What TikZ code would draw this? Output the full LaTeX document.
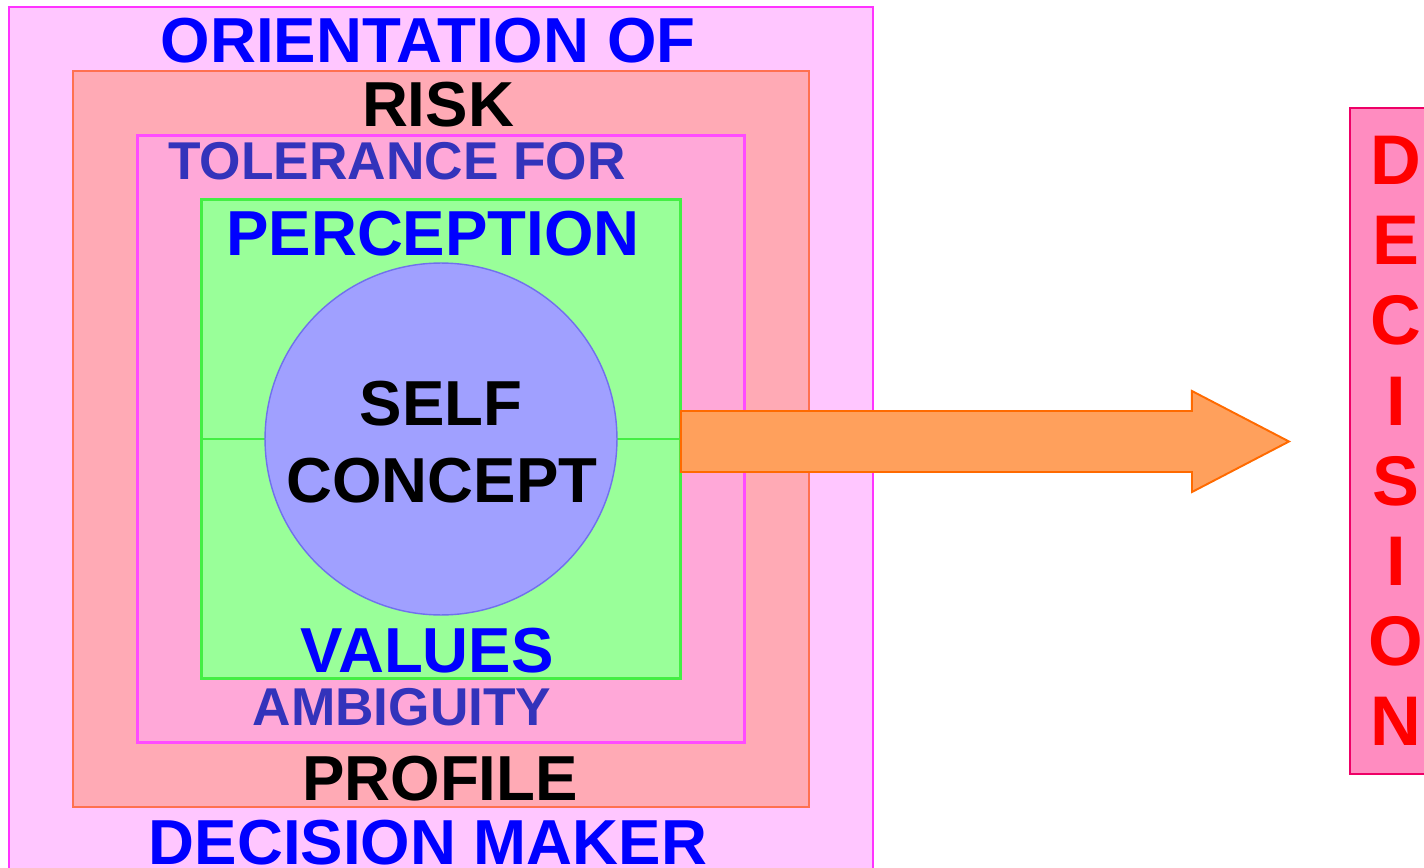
\documentclass[tikz,border=0pt]{standalone}
\usepackage{fontspec}
\setmainfont{Liberation Sans}
\usetikzlibrary{positioning,calc}
\definecolor{makerfill}{HTML}{FFC6FF}
\definecolor{makerline}{HTML}{FF33FF}
\definecolor{riskfill}{HTML}{FFAAB5}
\definecolor{riskline}{HTML}{FF7050}
\definecolor{tolfill}{HTML}{FFA8D8}
\definecolor{tolline}{HTML}{FF4CFF}
\definecolor{percfill}{HTML}{99FF99}
\definecolor{percline}{HTML}{44EE44}
\definecolor{selffill}{HTML}{A0A0FF}
\definecolor{selfline}{HTML}{7070EE}
\definecolor{arrowfill}{HTML}{FFA05C}
\definecolor{arrowline}{HTML}{FF6A00}
\definecolor{decfill}{HTML}{FF8CC0}
\definecolor{decline}{HTML}{EE0066}
\definecolor{tolblue}{HTML}{3333BB}

\begin{document}
\begin{tikzpicture}[x=0.02cm,y=-0.02cm,
  layer/.style={rectangle,inner sep=0pt,outer sep=0pt},
  big/.style={font=\fontsize{36.2}{40}\selectfont\bfseries,anchor=base,inner sep=0pt},
  mid/.style={font=\fontsize{30.3}{34}\selectfont\bfseries,anchor=base,inner sep=0pt,tolblue},
  letter/.style={font=\fontsize{40}{44}\selectfont\bfseries,anchor=base,inner sep=0pt,red}]
\useasboundingbox (0,0) rectangle (1424,868);
% nested layers
\node[layer,fill=makerfill,draw=makerline,line width=1.1pt,minimum width=17.28cm,minimum height=17.36cm] (maker) at (441,441) {};
\node[layer,fill=riskfill,draw=riskline,line width=1.1pt,minimum size=14.72cm] (risk) at (441,439) {};
\node[layer,fill=tolfill,draw=tolline,line width=1.7pt,minimum size=12.16cm] (tol) at (441,439) {};
\node[layer,fill=percfill,draw=percline,line width=1.7pt,minimum size=9.6cm] (perc) at (441,439) {};
\draw[percline,line width=1.7pt] (perc.west) -- (perc.east);
\node[circle,fill=selffill,draw=selfline,line width=0.8pt,minimum size=7.04cm,inner sep=0pt] (self) at (441,439) {};
% labels
\node[big,blue] (orient) at (428,63) {ORIENTATION OF};
\node[big,black] (risklab) at (438,127) {RISK};
\node[mid] (tollab) at (397,180) {TOLERANCE FOR};
\node[big,blue] (perclab) at (433,256) {PERCEPTION};
\node[big,black] (selflab) at (441,425) {SELF};
\node[big,black] (conclab) at (442,502) {CONCEPT};
\node[big,blue] (vallab) at (427,672) {VALUES};
\node[mid] (ambilab) at (402,725) {AMBIGUITY};
\node[big,black] (proflab) at (440,800) {PROFILE};
\node[big,blue] (makerlab) at (428,864) {DECISION MAKER};
% outcome
\node[layer,fill=decfill,draw=decline,line width=1.1pt,minimum width=1.7cm,minimum height=13.32cm,anchor=north west] (dec) at (1350,108) {};
\foreach \l [count=\i] in {D,E,C,I,S,I,O,N}{
  \node[letter] (dec\i) at (1396,105+80*\i) {\l};}
\draw[fill=arrowfill,draw=arrowline,line width=1.1pt]
  ($(perc.east)+(0,-28)$) coordinate (a1) -- ++(511,0) -- ++(0,-20) -- (1289,441.5)
  -- (1192,492) -- ++(0,-20) -- ($(perc.east)+(0,33)$) -- cycle;
\end{tikzpicture}
\end{document}
